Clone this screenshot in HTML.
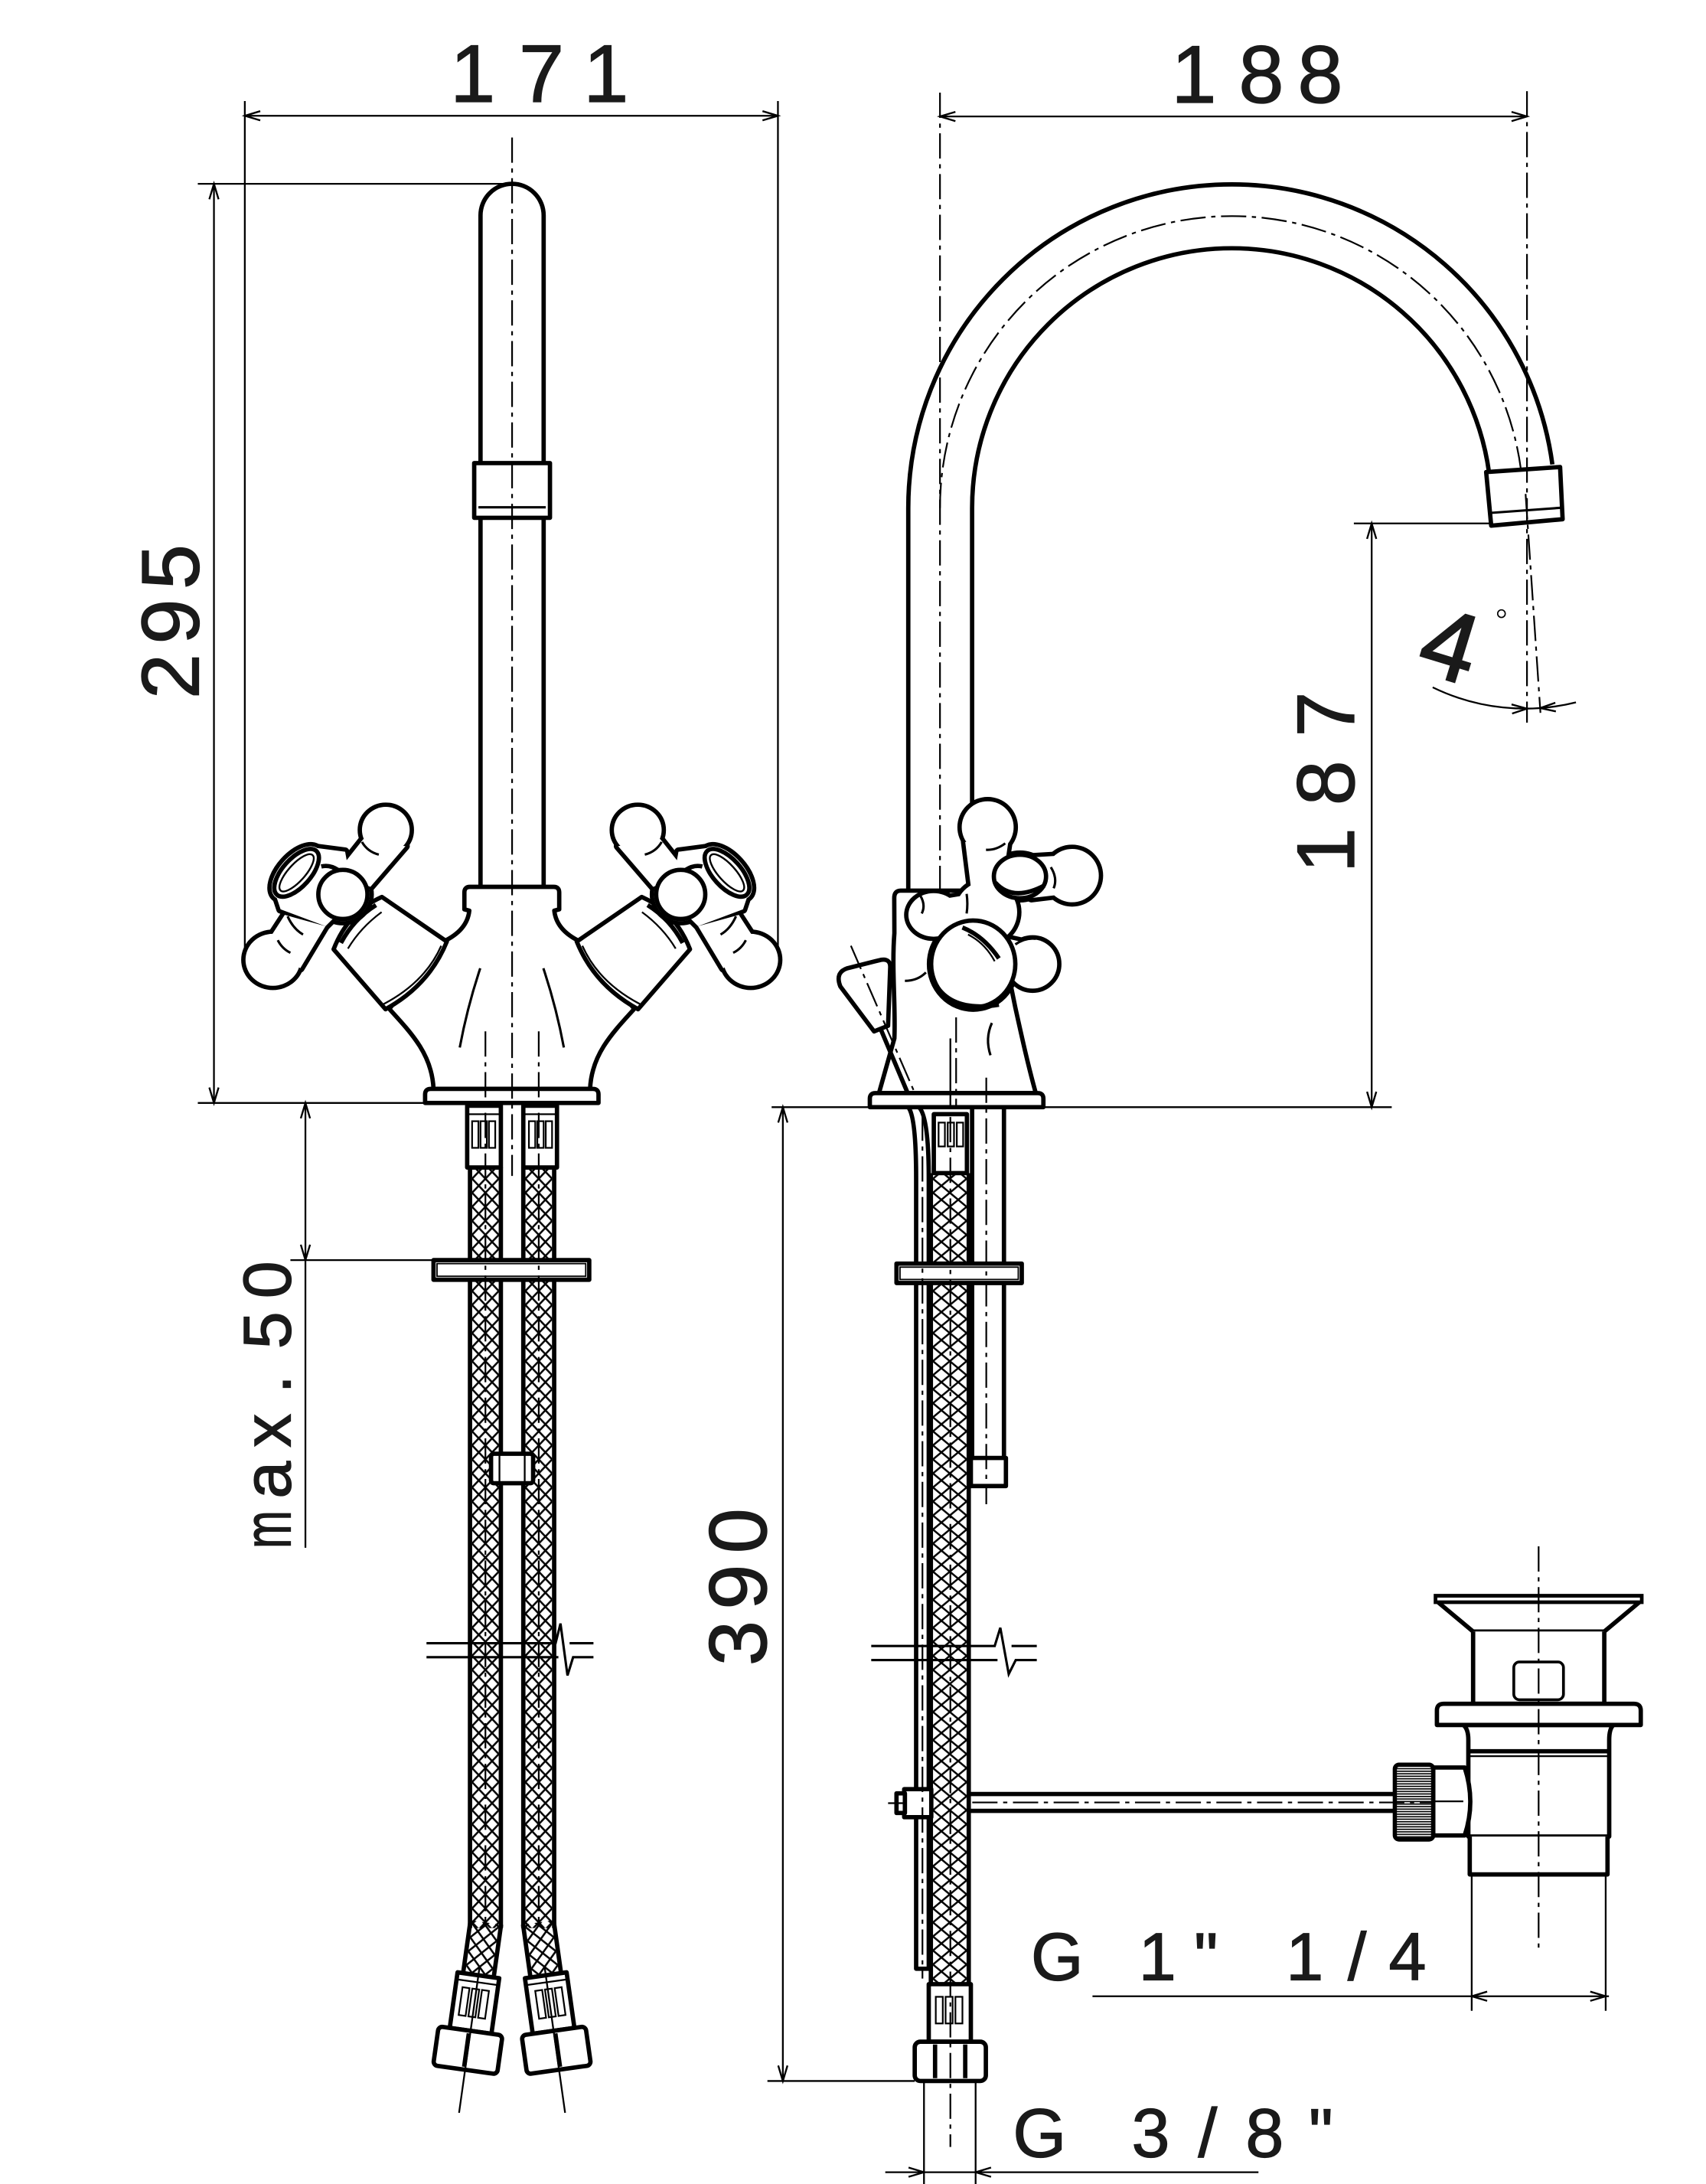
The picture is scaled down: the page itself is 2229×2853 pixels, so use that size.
<!DOCTYPE html>
<html><head><meta charset="utf-8">
<style>
html,body{margin:0;padding:0;background:#fff;}
svg{display:block;}
text{font-family:"Liberation Sans",sans-serif;fill:#1a1a1a;stroke:#1a1a1a;stroke-width:0.7;}
.cl{fill:none;stroke:#000;stroke-width:1.2;stroke-dasharray:18 4 3 4}
.th{fill:#fff;stroke:#000;stroke-width:3.1;stroke-linejoin:round}
.tk{fill:none;stroke:#000;stroke-width:3.1;stroke-linejoin:round}
.tn{fill:none;stroke:#000;stroke-width:1.25}
.md{fill:none;stroke:#000;stroke-width:1.7}
.ar{fill:none;stroke:#000;stroke-width:1.3}
</style></head><body>
<svg width="2229" height="2853" viewBox="0 0 1216 1556.4" xmlns="http://www.w3.org/2000/svg">
<defs>
 <pattern id="mA" patternUnits="userSpaceOnUse" x="336.5" y="0" width="9.5" height="10"><path d="M0,0L9.5,10M9.5,0L0,10" stroke="#000" stroke-width="1.35"/></pattern>
 <pattern id="mL" patternUnits="userSpaceOnUse" x="-9.5" y="0" width="9.5" height="10"><path d="M0,0L9.5,10M9.5,0L0,10" stroke="#000" stroke-width="1.35"/></pattern>
 <pattern id="mR" patternUnits="userSpaceOnUse" x="665" y="0" width="12" height="10"><path d="M0,0L12,10M12,0L0,10" stroke="#000" stroke-width="1.35"/></pattern>
 <pattern id="kn" patternUnits="userSpaceOnUse" width="4" height="1.8"><rect width="4" height="0.9" fill="#000"/></pattern>
 <g id="hLs">
  <ellipse cx="275" cy="591.5" rx="17" ry="16.5"/>
  <polygon points="259,598 289,603 264,632 240,622"/>
  <circle cx="244.4" cy="637.4" r="19"/>
  <polygon points="223,604 246,607 252,640 232,660 200,648 196,636"/>
  <ellipse cx="211.4" cy="622" rx="23" ry="12" transform="rotate(-48 211.4 622)"/>
  <ellipse cx="194.5" cy="684" rx="19.5" ry="18.5"/>
  <polygon points="203,652 232,660 214,690 190,672"/>
 </g>
 <g id="hRs">
  <circle cx="704" cy="589.5" r="18.5"/>
  <polygon points="688,600 719,598 714,632 692,632"/>
  <circle cx="764.2" cy="624" r="19"/>
  <polygon points="735,611 752,610 752,638 735,640"/>
  <ellipse cx="727" cy="624.6" rx="18.6" ry="15.5"/>
  <ellipse cx="665.5" cy="652" rx="18" ry="15.5"/>
  <polygon points="676,640 700,636 700,666 676,664"/>
  <circle cx="736" cy="687" r="17.5"/>
  <polygon points="714,668 732,672 730,694 712,694"/>
  <ellipse cx="693.7" cy="687" rx="30" ry="31"/>
  <circle cx="703" cy="650" r="22"/>
 </g>
</defs>
<rect x="0" y="0" width="1216" height="1556.4" fill="#fff"/>

<!-- ============ DIMENSIONS ============ -->
<!-- 171 -->
<path class="tn" d="M174.5,72 V676 M554.5,72 V676 M174.5,82.5 H554.5"/>
<path class="ar" d="M185.5,79.2 L174.5,82.5 L185.5,85.8 M543.5,79.2 L554.5,82.5 L543.5,85.8"/>
<text y="72.5" font-size="58" text-anchor="middle"><tspan x="337">1</tspan><tspan x="386">7</tspan><tspan x="432">1</tspan></text>
<!-- 188 -->
<path class="tn" d="M670,83 H1088.4"/>
<path class="ar" d="M681,79.7 L670,83 L681,86.3 M1077.4,79.7 L1088.4,83 L1077.4,86.3"/>
<text y="73" font-size="58" text-anchor="middle"><tspan x="851">1</tspan><tspan x="899">8</tspan><tspan x="941">8</tspan></text>
<!-- 295 -->
<path class="tn" d="M141,131 H365 M141,786 H303 M152.5,131 V786"/>
<path class="ar" d="M149.2,142 L152.5,131 L155.8,142 M149.2,775 L152.5,786 L155.8,775"/>
<text transform="rotate(-90)" y="141.5" font-size="58" text-anchor="middle"><tspan x="-482">2</tspan><tspan x="-443">9</tspan><tspan x="-404">5</tspan></text>
<!-- 187 -->
<path class="tn" d="M965,373 H1063 M977.7,373 V789"/>
<path class="ar" d="M974.4,384 L977.7,373 L981,384 M974.4,778 L977.7,789 L981,778"/>
<text transform="rotate(-90)" y="965" font-size="58" text-anchor="middle"><tspan x="-606">1</tspan><tspan x="-558">8</tspan><tspan x="-509">7</tspan></text>
<!-- max.50 -->
<path class="tn" d="M217.7,786 V1103 M207,898 H309"/>
<path class="ar" d="M214.4,797 L217.7,786 L221,797 M214.4,887 L217.7,898 L221,887"/>
<text transform="translate(207,1090) rotate(-90) scale(0.68,1)" font-size="48" text-anchor="middle">m</text>
<text transform="rotate(-90)" y="207" font-size="48" text-anchor="middle"><tspan x="-1054.7">a</tspan><tspan x="-1019.5">x</tspan><tspan x="-986.5">.</tspan><tspan x="-948">5</tspan><tspan x="-912">0</tspan></text>
<!-- 390 -->
<path class="tn" d="M550,789 H992 M558,789 V1483 M547,1483 H652"/>
<path class="ar" d="M554.7,800 L558,789 L561.3,800 M554.7,1472 L558,1483 L561.3,1472"/>
<text transform="rotate(-90)" y="546" font-size="58" text-anchor="middle"><tspan x="-1171">3</tspan><tspan x="-1131">9</tspan><tspan x="-1091">0</tspan></text>
<!-- G 1" 1/4 -->
<path class="tn" d="M1049,1336 V1433 M1144.5,1336 V1433 M778.7,1422.6 H1146.8"/>
<path class="ar" d="M1060,1419.3 L1049,1422.6 L1060,1425.9 M1133.5,1419.3 L1144.5,1422.6 L1133.5,1425.9"/>
<text y="1411" font-size="48" text-anchor="middle"><tspan x="753.5">G</tspan><tspan x="825">1</tspan><tspan x="859.6">"</tspan><tspan x="930">1</tspan><tspan x="967.3">/</tspan><tspan x="1003.2">4</tspan></text>
<!-- G 3/8" -->
<path class="tn" d="M658.6,1483 V1556.4 M695.4,1483 V1556.4 M631,1548 H897"/>
<path class="ar" d="M647.6,1544.7 L658.6,1548 L647.6,1551.3 M706.4,1544.7 L695.4,1548 L706.4,1551.3"/>
<text y="1537" font-size="49" text-anchor="middle"><tspan x="741">G</tspan><tspan x="820.2">3</tspan><tspan x="860.8">/</tspan><tspan x="901.4">8</tspan><tspan x="941.5">"</tspan></text>
<!-- 4 degrees -->
<path class="tn" d="M1021.2,489.8 A150,150 0 0 0 1123.3,500.5"/>
<path class="ar" d="M1077.4,502 L1088.4,505 L1077.8,508.5 M1108.6,500.8 L1097.8,504.6 L1109,507"/>
<text transform="translate(1033.8,459) rotate(17)" y="25" font-size="70" text-anchor="middle" style="stroke-width:1.4">4</text>
<circle cx="1070.2" cy="437.3" r="2.7" fill="none" stroke="#000" stroke-width="0.9"/>

<!-- ============ LEFT VIEW ============ -->
<path class="th" d="M342.5,634 V153.5 A22.5,22.5 0 0 1 387.5,153.5 V634"/>
<rect class="th" x="338" y="330" width="54" height="39"/>
<path class="md" d="M341,361.5 H389"/>
<path class="th" d="M331,648 V636 Q331,632 335,632 H394.6 Q398.6,632 398.6,636 V648 L395.1,649 Q396.6,663 413.6,671 L452.1,719 C435.6,737 421.6,752 420.6,776 L309,776 C308,752 294,737 277.5,719 L316,671 Q333,663 334.5,649 Z"/>
<path class="md" d="M342.3,690 Q333,718 327.7,746.5 M387.3,690 Q396.6,718 401.9,746.5"/>

<g id="LH">
 <path class="th" d="M272.2,639.2 L318.5,671 Q306,702 274.8,719.2 L237.8,676.5 Q248,650 272.2,639.2 Z"/>
 <path class="tn" d="M314.5,674 Q303,700 273.5,715.5" stroke-width="1.3"/>
 <use href="#hLs" fill="#000" stroke="#000" stroke-width="6.2" stroke-linejoin="round"/>
 <use href="#hLs" fill="#fff"/>
 <path class="tk" d="M268,645 Q252,655 243,672"/>
 <path class="tn" d="M272,650 Q257,661 248,676" stroke-width="1.3"/>
 <circle class="th" cx="244.4" cy="637.4" r="17.5"/>
 <ellipse class="th" cx="211.4" cy="622" rx="21" ry="10" transform="rotate(-48 211.4 622)"/>
 <ellipse cx="211.4" cy="622" rx="17" ry="6" transform="rotate(-48 211.4 622)" fill="none" stroke="#000" stroke-width="1.3"/>
 <path class="md" d="M258,600 Q262,607 270,609 M205,653 Q209,662 216,666 M198,670 Q201,676 207,679"/>
 <path class="tk" d="M229,617.5 Q235,616 241,620"/>
</g>
<use href="#LH" transform="translate(729.6,0) scale(-1,1)"/>
<path class="th" d="M303,786 V780 Q303,776 307,776 H422.6 Q426.6,776 426.6,780 V786 Z"/>
<path class="tn" d="M303,786 H427"/>

<g id="hoseA">
 <rect class="th" x="333" y="788" width="24" height="44"/>
 <path class="tn" d="M333.5,794 H356.5"/>
 <rect x="336.5" y="799" width="4.5" height="19" fill="none" stroke="#000" stroke-width="1.2"/>
 <rect x="342.5" y="799" width="4.5" height="19" fill="none" stroke="#000" stroke-width="1.2"/>
 <rect x="348.5" y="799" width="4.5" height="19" fill="none" stroke="#000" stroke-width="1.2"/>
 <rect x="336.5" y="832" width="19" height="542" fill="url(#mA)"/>
 <path class="tk" d="M335,832 V1374 M357,832 V1374" stroke-width="3.2"/>
 <g transform="translate(346,1372) rotate(8)">
  <rect x="-9.5" y="-2" width="19" height="38" fill="url(#mL)"/>
  <path class="tk" d="M-11,-2 V36 M11,-2 V36" stroke-width="3.2"/>
  <rect class="th" x="-15" y="36" width="30" height="40"/>
  <path class="tn" d="M-14,41 H14"/>
  <rect x="-10" y="46" width="5" height="20" fill="none" stroke="#000" stroke-width="1.2"/>
  <rect x="-3" y="46" width="5" height="20" fill="none" stroke="#000" stroke-width="1.2"/>
  <rect x="4" y="46" width="5" height="20" fill="none" stroke="#000" stroke-width="1.2"/>
  <rect class="th" x="-23" y="76" width="46" height="28" rx="3"/>
  <path class="tk" d="M-1,78 V102" stroke-width="2.4"/>
  <path class="tn" d="M0,30 V135" stroke-width="1.3"/>
 </g>
</g>
<use href="#hoseA" transform="translate(730,0) scale(-1,1)"/>

<rect class="th" x="309" y="898" width="111" height="14"/>
<rect x="311.5" y="900.5" width="106" height="9" fill="none" stroke="#000" stroke-width="1"/>
<rect class="th" x="350" y="1036" width="30" height="21" rx="2"/>
<path class="tn" d="M356,1037 V1056 M374,1037 V1056" stroke-width="1.4"/>
<path class="md" d="M304,1171 H396 L399.5,1157 L404.5,1194 L408.5,1181 H423 M304,1181 H398 M406,1171 H423"/>
<path class="cl" d="M365,98 V838 M346,735 V1372 M384,735 V1372"/>

<!-- ============ RIGHT VIEW ============ -->
<path class="tk" d="M647.4,634.7 V362 A230.6,230.6 0 0 1 878,131.4 A230.6,230.6 0 0 1 1106.5,331"/>
<path class="tk" d="M692.9,611 V362 A185.1,185.1 0 0 1 878,176.9 A185.1,185.1 0 0 1 1061.4,337"/>
<path class="cl" d="M670,362 A208,208 0 0 1 878,154 A208,208 0 0 1 1084,334"/>
<polygon class="th" points="1059.3,336.4 1112,332.8 1113.8,370 1062.9,374.6" stroke-width="3.2"/>
<path class="md" d="M1062.5,365.5 L1113.3,361.8"/>
<path class="cl" d="M670,66 V673 M1088.4,65 V515 M1087.4,352 L1098,508"/>

<path class="th" d="M626.5,779 L637.5,740 C638.5,718 635.5,690 637.5,665 L637.4,640 Q637.4,634.7 642,634.7 L700,634.7 L718,690 L723.7,718 C729,742 733,760 738.3,779 Z"/>
<path class="md" d="M707,729 Q702,740 706,752"/>
<path class="th" d="M604,690 L628,684 Q635,683 634.5,690 L633,731 L623,735 L599,703 Q595,693 604,690 Z"/>
<path class="tk" d="M628,734 L647,779" stroke-width="2.2"/>
<path class="cl" d="M606.5,674 L656,788"/>
<path class="md" d="M645,699 Q654,699 660,693"/>
<path class="th" d="M620,789 V783 Q620,779 624,779 H739.7 Q743.7,779 743.7,783 V789 Z"/>

<use href="#hRs" fill="#000" stroke="#000" stroke-width="6.2" stroke-linejoin="round"/>
<use href="#hRs" fill="#fff"/>
<ellipse class="th" cx="693.7" cy="687" rx="30" ry="31"/>
<path class="tk" d="M665,698 Q676,722 712,716" stroke-width="5"/>
<ellipse class="th" cx="727" cy="624.6" rx="18.6" ry="15.5"/>
<path class="tk" d="M709.5,629 Q722,643 744.5,631" stroke-width="4.5"/>
<path class="tk" d="M686,661 Q701,667 712,683" stroke-width="2.4"/>
<path class="tn" d="M690,666 Q702,672 709,685" stroke-width="1.3"/>
<path class="md" d="M702.8,605.6 Q710,606 716.5,601 M656,638.3 Q660,645 657,651 M689,637 Q690,644 689,651 M723.7,673 Q731,668 738.3,669 M749,618 Q754,626 751,633"/>

<!-- under right base -->
<path class="tk" d="M647.4,789 Q653,796 653,840 V1403 H662 V840 Q662,796 655,789" stroke-width="2.6"/>
<rect x="665" y="836" width="24" height="578" fill="url(#mR)"/>
<path class="tk" d="M663.5,836 V1414 M690.5,836 V1414" stroke-width="3.3"/>
<rect class="th" x="665.6" y="794" width="23.6" height="42"/>
<rect x="669" y="800" width="4.5" height="17" fill="none" stroke="#000" stroke-width="1.2"/>
<rect x="675.5" y="800" width="4.5" height="17" fill="none" stroke="#000" stroke-width="1.2"/>
<rect x="682" y="800" width="4.5" height="17" fill="none" stroke="#000" stroke-width="1.2"/>
<path class="tk" d="M692.9,789 V1039 M715.6,789 V1039"/>
<rect class="th" x="692" y="1039" width="25" height="20"/>
<rect class="th" x="639" y="900.5" width="89.3" height="13.8"/>
<rect x="641.5" y="903" width="84.3" height="8.8" fill="none" stroke="#000" stroke-width="1"/>
<path class="md" d="M621,1173 H709 L713,1160 L719,1193 L724,1183 H739 M621,1183 H711 M721,1173 H739"/>
<path class="tk" d="M691,1278.5 H994.2 M691,1290.5 H994.2" stroke-width="2.8"/>
<rect class="th" x="644.5" y="1275" width="19.3" height="20"/>
<rect class="th" x="639" y="1278" width="6" height="14" stroke-width="2"/>
<path class="tn" d="M633,1285 H646"/>
<rect class="th" x="662" y="1414" width="30" height="41"/>
<rect x="667" y="1423" width="5" height="19" fill="none" stroke="#000" stroke-width="1.2"/>
<rect x="674" y="1423" width="5" height="19" fill="none" stroke="#000" stroke-width="1.2"/>
<rect x="681" y="1423" width="5" height="19" fill="none" stroke="#000" stroke-width="1.2"/>
<rect class="th" x="652" y="1455" width="50.7" height="28" rx="4"/>
<path class="tk" d="M666.5,1457 V1481 M688,1457 V1481" stroke-width="2"/>
<path class="cl" d="M681.5,725 V789 M703,768 V1072 M657.5,795 V1410 M677.4,796 V1530 M693,1284.5 H1030"/>
<path class="tn" d="M677.4,740 V789"/>

<!-- ============ DRAIN ============ -->
<path class="th" d="M1025,1141.8 L1050,1162.7 H1143.5 L1168.5,1141.8"/>
<path d="M1023.2,1137.2 H1170.2 V1141.8 H1023.2 Z" fill="#fff" stroke="#000" stroke-width="2.6"/>
<path class="th" d="M1050,1162.7 V1214.2 H1143.5 V1162.7"/>
<rect x="1079" y="1184.4" width="35.4" height="26.9" rx="4" fill="none" stroke="#000" stroke-width="2"/>
<path class="th" d="M1043,1229.3 Q1046.6,1232 1046.6,1240 V1308.8 H1147 V1240 Q1147,1232 1150,1229.3 Z"/>
<path class="th" d="M1024.2,1229.3 V1219 Q1024.2,1214.2 1029,1214.2 H1164.7 Q1169.5,1214.2 1169.5,1219 V1229.3 Z"/>
<path class="tk" d="M1046.6,1248 H1147" stroke-width="2.4"/>
<path class="tn" d="M1046.6,1251.5 H1147" stroke-width="1.2"/>
<path class="th" d="M1047.6,1308.8 V1335.8 H1145.8 V1308.8" stroke-width="3.3"/>
<path class="th" d="M1021.6,1259.6 H1044 Q1052,1284 1044,1308 H1021.6 Z" stroke-width="2.8"/>
<path class="tn" d="M1021.6,1283.7 H1043" stroke-width="1.2"/>
<rect x="994.2" y="1257.6" width="27.4" height="53.3" rx="3" fill="url(#kn)" stroke="#000" stroke-width="3"/>
<path class="cl" d="M1096.7,1102 V1391"/>
</svg>
</body></html>
